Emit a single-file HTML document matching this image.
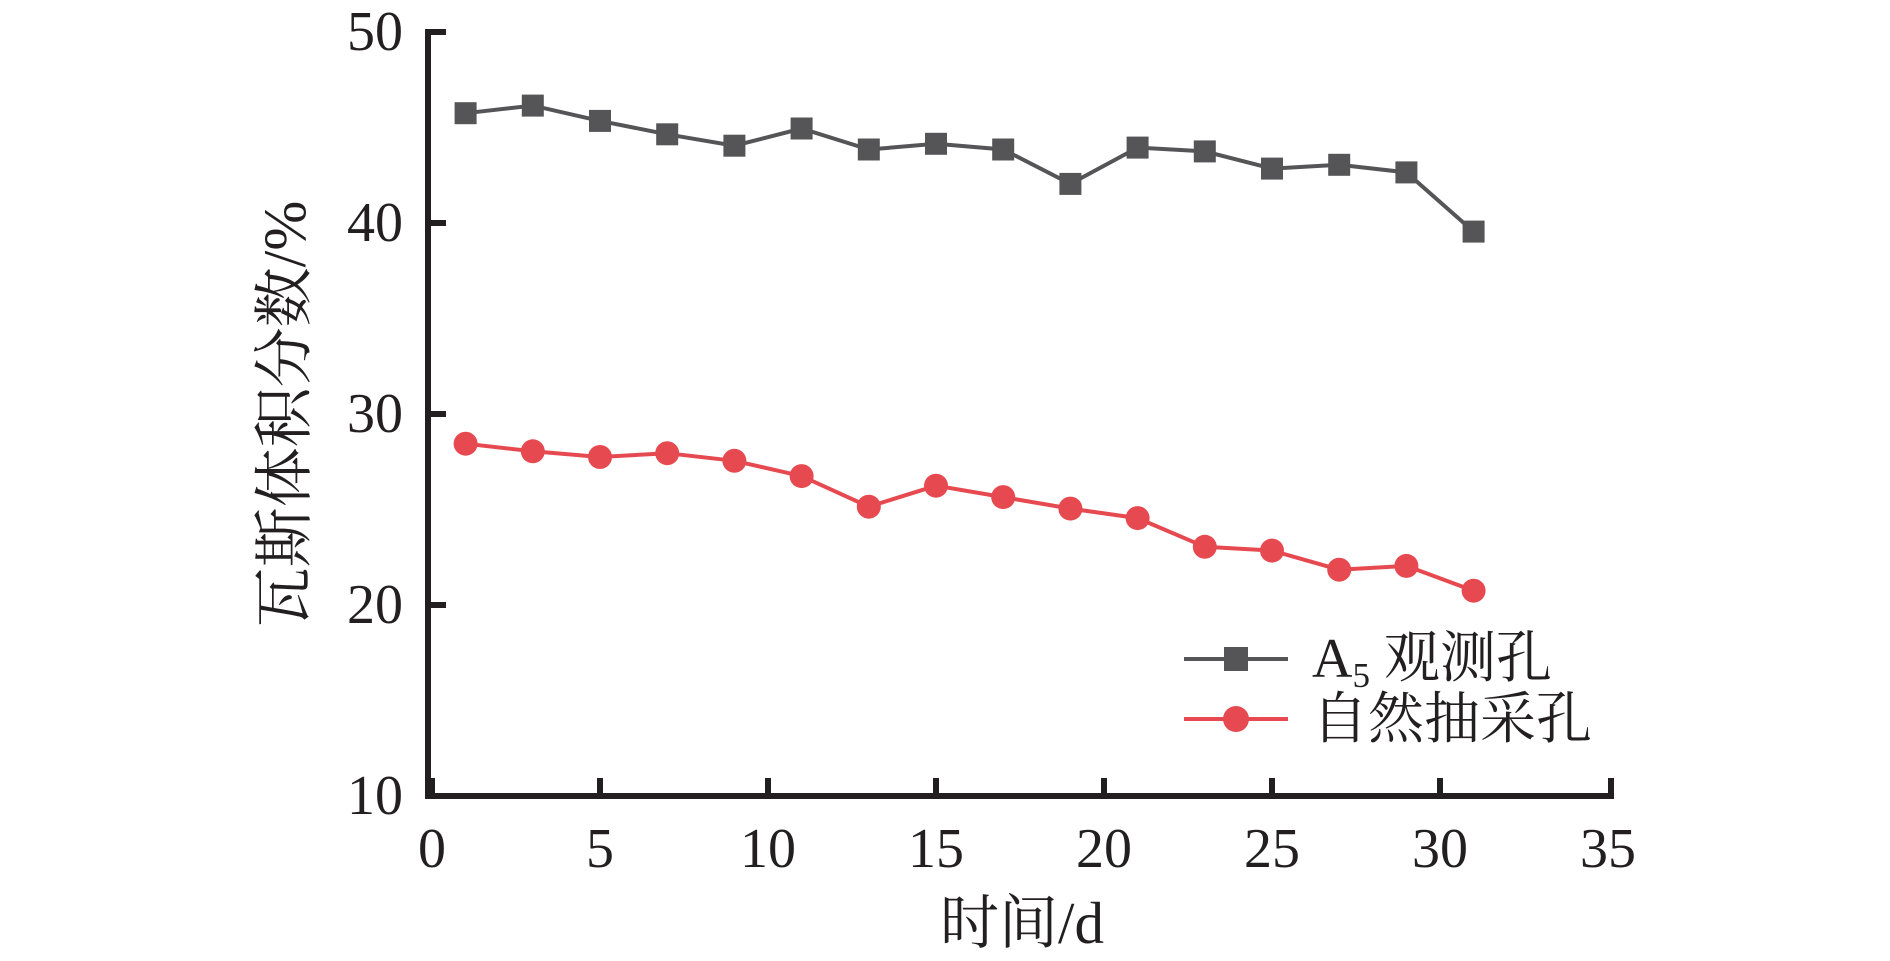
<!DOCTYPE html>
<html><head><meta charset="utf-8"><style>
html,body{margin:0;padding:0;background:#fff;}
svg text{font-family:"Liberation Serif","Noto Serif CJK SC",serif;fill:#231f20;}
</style></head><body>
<svg width="1890" height="956" viewBox="0 0 1890 956" xmlns="http://www.w3.org/2000/svg">
<g stroke="#231f20" stroke-width="6" fill="none">
<path d="M446 32 H428 V796 H1611 V778"/>
<path d="M432 796 V778 M600 796 V778 M768 796 V778 M936 796 V778 M1104 796 V778 M1272 796 V778 M1440 796 V778"/>
<path d="M428 223 H446 M428 414 H446 M428 605 H446"/>
</g>
<g font-size="56" text-anchor="middle">
<text x="432" y="867">0</text><text x="600" y="867">5</text><text x="768" y="867">10</text>
<text x="936" y="867">15</text><text x="1104" y="867">20</text><text x="1272" y="867">25</text>
<text x="1440" y="867">30</text><text x="1608" y="867">35</text>
</g>
<g font-size="56" text-anchor="end">
<text x="403" y="50">50</text><text x="403" y="241">40</text><text x="403" y="432">30</text>
<text x="403" y="623">20</text><text x="403" y="814">10</text>
</g>
<text x="1022" y="943" font-size="59" text-anchor="middle">时间/d</text>
<text transform="translate(305,414) rotate(-90)" font-size="60" text-anchor="middle">瓦斯体积分数/%</text>
<polyline fill="none" stroke="#555557" stroke-width="4" points="465.6,113.2 532.8,105.6 600,120.9 667.2,134.3 734.4,145.7 801.6,128.5 868.8,149.5 936,143.8 1003.2,149.5 1070.4,183.9 1137.6,147.6 1204.8,151.4 1272,168.6 1339.2,164.8 1406.4,172.4 1473.6,231.6"/>
<g fill="#555557">
<rect x="454.6" y="102.2" width="22" height="22"/><rect x="521.8" y="94.6" width="22" height="22"/><rect x="589" y="109.9" width="22" height="22"/><rect x="656.2" y="123.3" width="22" height="22"/><rect x="723.4" y="134.7" width="22" height="22"/><rect x="790.6" y="117.5" width="22" height="22"/><rect x="857.8" y="138.5" width="22" height="22"/><rect x="925" y="132.8" width="22" height="22"/><rect x="992.2" y="138.5" width="22" height="22"/><rect x="1059.4" y="172.9" width="22" height="22"/><rect x="1126.6" y="136.6" width="22" height="22"/><rect x="1193.8" y="140.4" width="22" height="22"/><rect x="1261" y="157.6" width="22" height="22"/><rect x="1328.2" y="153.8" width="22" height="22"/><rect x="1395.4" y="161.4" width="22" height="22"/><rect x="1462.6" y="220.6" width="22" height="22"/>
</g>
<polyline fill="none" stroke="#e64a50" stroke-width="4" points="465.6,443.7 532.8,451.3 600,457 667.2,453.2 734.4,460.8 801.6,476.1 868.8,506.7 936,485.7 1003.2,497.1 1070.4,508.6 1137.6,518.1 1204.8,546.8 1272,550.6 1339.2,569.7 1406.4,565.9 1473.6,590.7"/>
<g fill="#e64a50">
<circle cx="465.6" cy="443.7" r="12"/><circle cx="532.8" cy="451.3" r="12"/><circle cx="600" cy="457" r="12"/><circle cx="667.2" cy="453.2" r="12"/><circle cx="734.4" cy="460.8" r="12"/><circle cx="801.6" cy="476.1" r="12"/><circle cx="868.8" cy="506.7" r="12"/><circle cx="936" cy="485.7" r="12"/><circle cx="1003.2" cy="497.1" r="12"/><circle cx="1070.4" cy="508.6" r="12"/><circle cx="1137.6" cy="518.1" r="12"/><circle cx="1204.8" cy="546.8" r="12"/><circle cx="1272" cy="550.6" r="12"/><circle cx="1339.2" cy="569.7" r="12"/><circle cx="1406.4" cy="565.9" r="12"/><circle cx="1473.6" cy="590.7" r="12"/>
</g>
<line x1="1184" y1="659" x2="1288" y2="659" stroke="#555557" stroke-width="4"/>
<rect x="1224" y="647" width="24" height="24" fill="#555557"/>
<line x1="1184" y1="719" x2="1288" y2="719" stroke="#e64a50" stroke-width="4"/>
<circle cx="1236" cy="719" r="13" fill="#e64a50"/>
<text x="1312" y="677" font-size="56">A<tspan font-size="35" dy="10">5</tspan><tspan dy="-10"> 观测孔</tspan></text>
<text x="1312" y="738" font-size="56">自然抽采孔</text>
</svg>
</body></html>
